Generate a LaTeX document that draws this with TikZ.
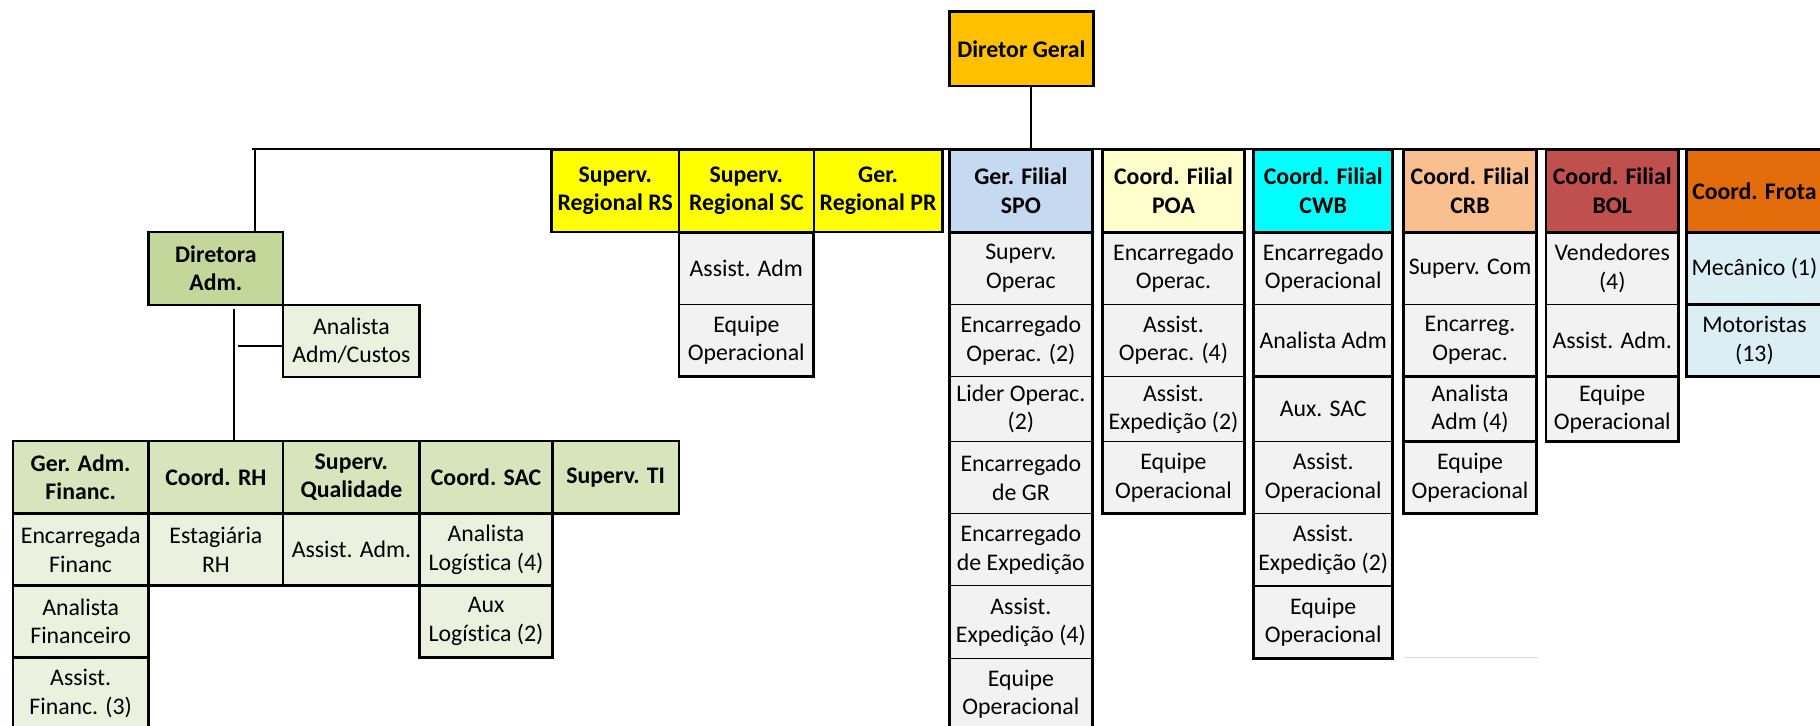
\documentclass[tikz,border=0pt]{standalone}
\usepackage{fontspec}
\setmainfont{Carlito}[Ligatures=CommonOff]
\usepackage{xcolor}
\usetikzlibrary{positioning}
\definecolor{dgorange}{HTML}{FFC000}
\definecolor{admgreen}{HTML}{C4D79B}
\definecolor{admhead}{HTML}{D8E4BC}
\definecolor{admrow}{HTML}{EBF1DE}
\definecolor{regyellow}{HTML}{FFFF00}
\definecolor{rowgray}{HTML}{F2F2F2}
\definecolor{spoblue}{HTML}{C5D9F1}
\definecolor{poayellow}{HTML}{FFFFCC}
\definecolor{cwbcyan}{HTML}{00FFFF}
\definecolor{crbpeach}{HTML}{FABF8F}
\definecolor{bolred}{HTML}{C0504D}
\definecolor{frotaorange}{HTML}{E26B0A}
\definecolor{frotarow}{HTML}{DAEEF3}
\tikzset{
	box/.style={
			draw, line width=0.9pt, outer sep=0pt, inner sep=1pt, align=center,
			minimum height=62.2pt, text=black,
			font=\fontsize{20.5}{24.5}\selectfont
		},
	head/.style={box, minimum height=71pt, font=\bfseries\fontsize{20.5}{24.5}\selectfont},
	admhd/.style={head, heavy, fill=admhead, minimum height=62.5pt},
	admcell/.style={box, heavy, fill=admrow},
	heavy/.style={line width=2pt},
	lowrow/.style={minimum height=56pt},
	outline/.style={line width=2.4pt},
	link/.style={line width=1.6pt}
}

\begin{document}
\begin{tikzpicture}[x=1pt,y=-1pt]
	% page frame
	\useasboundingbox (0,0) rectangle (1568,625);

	% top
	\node[head, heavy, fill=dgorange, minimum width=124pt, minimum height=64pt, anchor=north west] (dg) at (818,10) {Diretor Geral};
	\coordinate (busL) at (217,128);
	\coordinate (busR) at (1570,128);
	\coordinate (tapDG) at (888,74);
	\draw[link] (busL) -- (busR);
	\draw[link] (tapDG) -- (tapDG |- busL);

	% administrative branch
	\coordinate (tapA) at (220,128);
	\node[head, heavy, fill=admgreen, minimum width=116pt, minimum height=62.5pt, anchor=north west] (dadm) at (128,200) {Diretora\\Adm.};
	\draw[link] (tapA) -- (tapA |- dadm.north);
	\node[admcell, minimum width=117.5pt, anchor=north west] (custos) at (dadm.south east) {Analista\\Adm/Custos};

	\node[admhd, minimum width=117pt, anchor=north west] (gaf) at (11,380) {Ger. Adm.\\Financ.};
	\node[admhd, minimum width=116pt, right=0pt of gaf] (crh) {Coord. RH};
	\node[admhd, minimum width=117.5pt, right=0pt of crh] (squal) {Superv.\\Qualidade};
	\node[admhd, minimum width=114.5pt, right=0pt of squal] (csac) {Coord. SAC};
	\node[admhd, minimum width=109pt, right=0pt of csac] (sti) {Superv. TI};

	\node[admcell, minimum width=117pt, minimum height=62pt, below=0pt of gaf] (gaf1) {Encarregada\\Financ};
	\node[admcell, minimum width=117pt, minimum height=62pt, below=0pt of gaf1] (gaf2) {Analista\\Financeiro};
	\node[admcell, minimum width=117pt, minimum height=62pt, below=0pt of gaf2] (gaf3) {Assist.\\Financ. (3)};
	\node[admcell, minimum width=116pt, minimum height=62pt, below=0pt of crh] (crh1) {Estagiária\\RH};
	\node[admcell, minimum width=117.5pt, minimum height=62pt, below=0pt of squal] (squal1) {Assist. Adm.};
	\node[admcell, minimum width=114.5pt, minimum height=62pt, below=0pt of csac] (csac1) {Analista\\Logística (4)};
	\node[admcell, minimum width=114.5pt, minimum height=62pt, below=0pt of csac1] (csac2) {Aux\\Logística (2)};

	\coordinate (tapB) at (201.5,266);
	\coordinate (stub) at (205,298);
	\draw[link] (tapB) -- (tapB |- gaf.north);
	\draw[link] (stub) -- (stub -| custos.west);

	% regional supervisors
	\node[head, heavy, fill=regyellow, minimum width=110pt, anchor=north west] (srs) at (475,129) {Superv.\\Regional RS};
	\node[head, heavy, fill=regyellow, minimum width=116pt, right=0pt of srs] (ssc) {Superv.\\Regional SC};
	\node[head, heavy, fill=regyellow, minimum width=111pt, right=0pt of ssc] (gpr) {Ger.\\Regional PR};
	\node[box, fill=rowgray, minimum width=116pt, below=0pt of ssc] (ssc1) {Assist. Adm};
	\node[box, fill=rowgray, minimum width=116pt, below=0pt of ssc1] (ssc2) {Equipe\\Operacional};

	% filial SPO
	\begin{scope}[every node/.append style={minimum width=123pt}]
		\node[head, fill=spoblue, anchor=north west] (spo) at (818,129) {Ger. Filial\\SPO};
		\node[box, fill=rowgray, below=0pt of spo] (spo1) {Superv.\\Operac};
		\node[box, fill=rowgray, below=0pt of spo1] (spo2) {Encarregado\\Operac. (2)};
		\node[box, fill=rowgray, lowrow, below=0pt of spo2] (spo3) {Lider Operac.\\(2)};
		\node[box, fill=rowgray, below=0pt of spo3] (spo4) {Encarregado\\de GR};
		\node[box, fill=rowgray, below=0pt of spo4] (spo5) {Encarregado\\de Expedição};
		\node[box, fill=rowgray, below=0pt of spo5] (spo6) {Assist.\\Expedição (4)};
		\node[box, fill=rowgray, below=0pt of spo6] (spo7) {Equipe\\Operacional};
	\end{scope}

	% filial POA
	\begin{scope}[every node/.append style={minimum width=122pt}]
		\node[head, fill=poayellow, anchor=north west] (poa) at (950,129) {Coord. Filial\\POA};
		\node[box, fill=rowgray, below=0pt of poa] (poa1) {Encarregado\\Operac.};
		\node[box, fill=rowgray, below=0pt of poa1] (poa2) {Assist.\\Operac. (4)};
		\node[box, fill=rowgray, lowrow, below=0pt of poa2] (poa3) {Assist.\\Expedição (2)};
		\node[box, fill=rowgray, below=0pt of poa3] (poa4) {Equipe\\Operacional};
	\end{scope}

	% filial CWB
	\begin{scope}[every node/.append style={minimum width=120pt}]
		\node[head, fill=cwbcyan, anchor=north west] (cwb) at (1080,129) {Coord. Filial\\CWB};
		\node[box, fill=rowgray, below=0pt of cwb] (cwb1) {Encarregado\\Operacional};
		\node[box, fill=rowgray, below=0pt of cwb1] (cwb2) {Analista Adm};
		\node[box, fill=rowgray, lowrow, below=0pt of cwb2] (cwb3) {Aux. SAC};
		\node[box, fill=rowgray, below=0pt of cwb3] (cwb4) {Assist.\\Operacional};
		\node[box, fill=rowgray, below=0pt of cwb4] (cwb5) {Assist.\\Expedição (2)};
		\node[box, fill=rowgray, below=0pt of cwb5] (cwb6) {Equipe\\Operacional};
	\end{scope}

	% filial CRB
	\begin{scope}[every node/.append style={minimum width=115pt}]
		\node[head, fill=crbpeach, anchor=north west] (crb) at (1209,129) {Coord. Filial\\CRB};
		\node[box, fill=rowgray, below=0pt of crb] (crb1) {Superv. Com};
		\node[box, fill=rowgray, below=0pt of crb1] (crb2) {Encarreg.\\Operac.};
		\node[box, fill=rowgray, lowrow, below=0pt of crb2] (crb3) {Analista\\Adm (4)};
		\node[box, fill=rowgray, below=0pt of crb3] (crb4) {Equipe\\Operacional};
	\end{scope}
	\draw[line width=0.8pt, black!15] (1210,566.8) -- (1325,566.8);

	% filial BOL
	\begin{scope}[every node/.append style={minimum width=114pt}]
		\node[head, fill=bolred, anchor=north west] (bol) at (1332,129) {Coord. Filial\\BOL};
		\node[box, fill=rowgray, below=0pt of bol] (bol1) {Vendedores\\(4)};
		\node[box, fill=rowgray, below=0pt of bol1] (bol2) {Assist. Adm.};
		\node[box, fill=rowgray, lowrow, below=0pt of bol2] (bol3) {Equipe\\Operacional};
	\end{scope}

	% frota
	\begin{scope}[every node/.append style={minimum width=117pt}]
		\node[head, fill=frotaorange, anchor=north west] (frota) at (1453,129) {Coord. Frota};
		\node[box, fill=frotarow, below=0pt of frota] (frota1) {Mecânico (1)};
		\node[box, fill=frotarow, below=0pt of frota1] (frota2) {Motoristas\\(13)};
	\end{scope}

	% heavy borders
	\draw[outline] (ssc1.north west) rectangle (ssc2.south east);
	\draw[outline] (spo.north west) rectangle (spo7.south east);
	\draw[outline] (spo.south west) -- (spo.south east);
	\draw[outline] (poa.north west) rectangle (poa4.south east);
	\draw[outline] (poa.south west) -- (poa.south east);
	\draw[outline] (cwb.north west) rectangle (cwb6.south east);
	\draw[outline] (cwb.south west) -- (cwb.south east);
	\draw[outline] (cwb2.south west) -- (cwb2.south east);
	\draw[outline] (cwb5.south west) -- (cwb5.south east);
	\draw[outline] (crb.north west) rectangle (crb4.south east);
	\draw[outline] (crb.south west) -- (crb.south east);
	\draw[outline] (crb2.south west) -- (crb2.south east);
	\draw[outline] (crb3.south west) -- (crb3.south east);
	\draw[outline] (bol.north west) rectangle (bol3.south east);
	\draw[outline] (bol.south west) -- (bol.south east);
	\draw[outline] (bol2.south west) -- (bol2.south east);
	\draw[outline] (frota.north west) rectangle (frota2.south east);
	\draw[outline] (frota.south west) -- (frota.south east);
	\draw[outline] (frota1.south west) -- (frota1.south east);
\end{tikzpicture}
\end{document}
